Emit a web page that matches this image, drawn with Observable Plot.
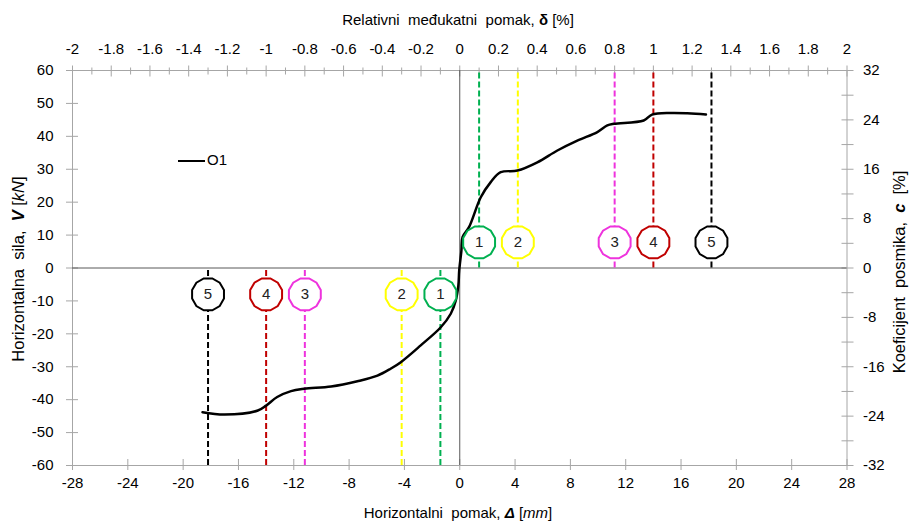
<!DOCTYPE html>
<html><head><meta charset="utf-8">
<script src="https://cdn.jsdelivr.net/npm/d3@7"></script>
<script src="https://cdn.jsdelivr.net/npm/@observablehq/plot@0.6"></script>
<style>
body{margin:0;background:#fff;}
#wrap{position:relative;width:910px;height:522px;font-family:"Liberation Sans",Arial,sans-serif;font-size:15px;color:#000;}
.t{position:absolute;white-space:nowrap;line-height:1;}
</style></head><body><div id="wrap"></div>
<script>
// ---- data ----
const dispMM = [-18.6,-17.0,-14.6,-14.0,-13.2,-12.2,-11.25,-9.3,-7.4,-5.95,-5.0,-4.26,-2.82,-1.37,-0.65,-0.29,-0.1,-0.04,0.12,0.2,0.67,1.52,2.24,2.96,4.17,5.61,7.06,8.5,9.95,10.67,11.15,13.3,13.9,15.25,16.45,17.8];
const forceKN = [-43.8,-44.5,-43.3,-41.8,-39.2,-37.4,-36.7,-36.0,-34.4,-32.7,-30.6,-28.6,-23.5,-18.0,-13.9,-9.9,-5.3,-0.8,5.3,9.4,12.4,21.5,26.1,29.1,29.6,32.1,35.7,38.7,41.3,43.3,43.8,44.8,46.6,47.1,47.0,46.6];
const markerNames = ["1","2","3","4","5"];
const markerDisp = [1.4,4.2,11.2,14.0,18.2];
const markerColors = ["#00b050","#ffff00","#ee33dd","#c00000","#000000"];
const labelForcePos = 7.8, labelForceNeg = -8.0;
const bottomTicks = [-28,-24,-20,-16,-12,-8,-4,0,4,8,12,16,20,24,28];
const topTicks = [-2,-1.8,-1.6,-1.4,-1.2,-1,-0.8,-0.6,-0.4,-0.2,0,0.2,0.4,0.6,0.8,1,1.2,1.4,1.6,1.8,2];
const topMinor = [-1.9,-1.7,-1.5,-1.3,-1.1,-0.9,-0.7,-0.5,-0.3,-0.1,0.1,0.3,0.5,0.7,0.9,1.1,1.3,1.5,1.7,1.9];
const leftTicks = [-60,-50,-40,-30,-20,-10,0,10,20,30,40,50,60];
const rightTicks = [-32,-24,-16,-8,0,8,16,24,32];
const rightMinor = [-28,-20,-12,-4,4,12,20,28];
const mmPerPct = 14;      // 2 % drift = 28 mm
const kNPerC = 60/32;     // 32 % coefficient = 60 kN
const xDomain = [-28,28], yDomain = [-60,60];

// ---- build ----
const curve = dispMM.map((d,i)=>({d, v: forceKN[i]}));
const markers = markerNames.map((n,i)=>({name:n, x: markerDisp[i], color: markerColors[i]}));
const negMarkers = markers.map(m=>({...m, x: -m.x}));
const axisGray = "#a6a6a6";

const dodecagon = {
  draw(context, size) {
    const r = Math.sqrt(size / Math.PI);
    for (let i = 0; i < 12; i++) {
      const a = (i / 12) * 2 * Math.PI + Math.PI / 12;
      const x = r * Math.cos(a), y = r * Math.sin(a);
      if (i) context.lineTo(x, y); else context.moveTo(x, y);
    }
    context.closePath();
  }
};
const fmt = d => String(d);

const chart = Plot.plot({
  width: 910, height: 522,
  marginLeft: 72, marginRight: 63.5, marginTop: 70, marginBottom: 57,
  style: {fontFamily: '"Liberation Sans", Arial, sans-serif', fontSize: "15px", color: "#000", background: "#fff"},
  x: {domain: xDomain, label: null},
  y: {domain: yDomain, label: null},
  color: {type: "identity"},
  marks: [
    Plot.frame({stroke: axisGray}),
    // tick marks (crossing the axis lines)
    Plot.axisX(bottomTicks, {anchor: "bottom", tickSize: 11, dy: -6, fill: "none", stroke: axisGray}),
    Plot.axisX(topTicks.map(t=>t*mmPerPct), {anchor: "top", tickSize: 11, dy: 5.5, fill: "none", stroke: axisGray}),
    Plot.axisX(topMinor.map(t=>t*mmPerPct), {anchor: "top", tickSize: 7, dy: 3.5, fill: "none", stroke: axisGray}),
    Plot.axisY(leftTicks, {anchor: "left", tickSize: 12, dx: 6, fill: "none", stroke: axisGray}),
    Plot.axisY(rightTicks.concat(rightMinor).map(c=>c*kNPerC), {anchor: "right", tickSize: 12, dx: -6, fill: "none", stroke: axisGray}),
    // tick labels
    Plot.axisX(bottomTicks, {anchor: "bottom", tickSize: 0, tickPadding: 12, tickFormat: fmt, stroke: "none", fill: "#000", label: null}),
    Plot.axisX(topTicks.map(t=>t*mmPerPct), {anchor: "top", tickSize: 0, tickPadding: 17, tickFormat: d => String(+(d/mmPerPct).toFixed(1)), stroke: "none", fill: "#000", label: null}),
    Plot.axisY(leftTicks, {anchor: "left", tickSize: 0, tickPadding: 19, tickFormat: fmt, stroke: "none", fill: "#000", label: null}),
    Plot.axisY(rightTicks.map(c=>c*kNPerC), {anchor: "right", tickSize: 0, tickPadding: 16, tickFormat: d => String(Math.round(d/kNPerC)), stroke: "none", fill: "#000", label: null}),
    // zero lines
    Plot.ruleX([0], {stroke: "#595959", strokeWidth: 1}),
    Plot.ruleY([0], {stroke: "#595959", strokeWidth: 1}),
    // drift level dashed lines
    Plot.ruleX(markers, {x: "x", y1: 0, y2: yDomain[1], stroke: "color", strokeWidth: 2, strokeDasharray: "6,3"}),
    Plot.ruleX(negMarkers, {x: "x", y1: yDomain[0], y2: 0, stroke: "color", strokeWidth: 2, strokeDasharray: "6,3"}),
    // envelope curve
    Plot.line(curve, {x: "d", y: "v", stroke: "#000", strokeWidth: 2.5, curve: "catmull-rom"}),
    // level labels
    Plot.dot(markers, {x: "x", y: () => labelForcePos, r: 16.5, symbol: dodecagon, stroke: "color", fill: "#fff", strokeWidth: 2}),
    Plot.dot(negMarkers, {x: "x", y: () => labelForceNeg, r: 16.5, symbol: dodecagon, stroke: "color", fill: "#fff", strokeWidth: 2}),
    Plot.text(markers, {x: "x", y: () => labelForcePos, text: "name", fill: "#222", fontSize: 15}),
    Plot.text(negMarkers, {x: "x", y: () => labelForceNeg, text: "name", fill: "#222", fontSize: 15})
  ]
});
const wrap = document.getElementById("wrap");
wrap.appendChild(chart);

function addText(html, style) {
  const s = document.createElement("div");
  s.className = "t";
  s.innerHTML = html;
  Object.assign(s.style, style);
  wrap.appendChild(s);
  return s;
}
addText('Relativni&nbsp; međukatni&nbsp; pomak, <b style="font-style:normal">δ</b> [%]', {left: "458px", top: "12px", transform: "translateX(-50%)"});
addText('Horizontalni&nbsp; pomak, <b><i>Δ</i></b> [<i>mm</i>]', {left: "458px", top: "505px", transform: "translateX(-50%)"});
addText('Horizontalna&nbsp; sila,&nbsp; <b><i>V</i></b> [<i>kN</i>]', {left: "18px", top: "269px", fontSize: "16.5px", transform: "translate(-50%,-50%) rotate(-90deg)"});
addText('Koeficijent&nbsp; posmika,&nbsp; <b><i>c</i></b>&nbsp; [%]', {left: "899px", top: "272px", fontSize: "16.5px", transform: "translate(-50%,-50%) rotate(-90deg)"});
// legend
addText('<span style="display:inline-block;width:27px;height:0;border-top:2.5px solid #000;vertical-align:middle;margin-right:2px"></span>O1', {left: "178px", top: "152px"});
</script>
</body></html>
